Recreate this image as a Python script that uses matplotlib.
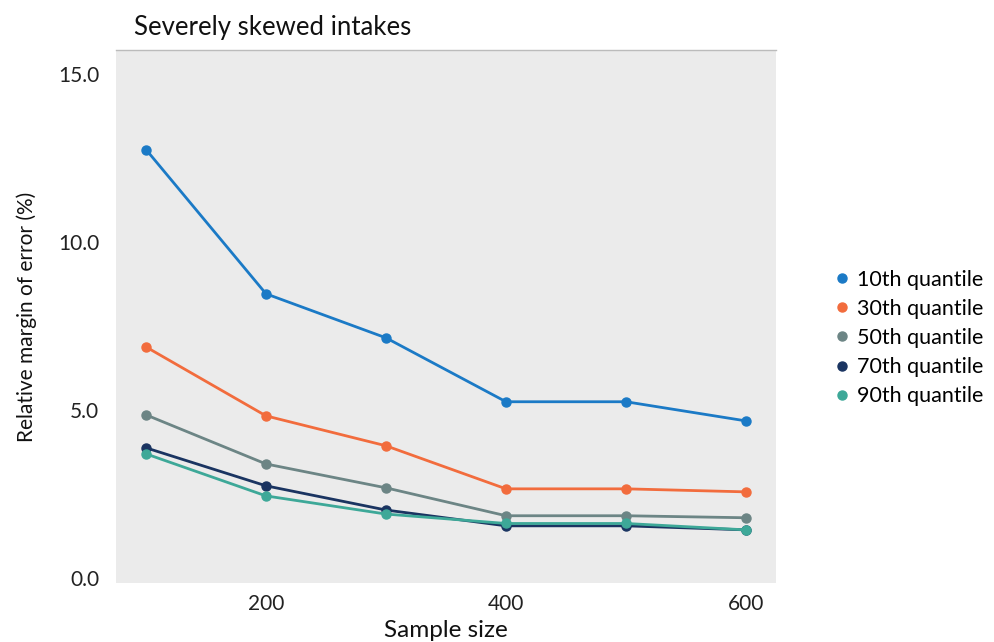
import matplotlib
matplotlib.use("Agg")
import matplotlib.pyplot as plt
from matplotlib.lines import Line2D

plt.rcParams['font.family'] = ['Lato', 'DejaVu Sans']

sample_size = [100, 200, 300, 400, 500, 600]
series_names = ["10th quantile", "30th quantile", "50th quantile", "70th quantile", "90th quantile"]
q10 = [12.74, 8.45, 7.14, 5.24, 5.24, 4.67]
q30 = [6.87, 4.82, 3.93, 2.65, 2.65, 2.56]
q50 = [4.85, 3.39, 2.68, 1.85, 1.85, 1.79]
q70 = [3.87, 2.74, 2.02, 1.55, 1.55, 1.43]
q90 = [3.69, 2.44, 1.90, 1.62, 1.62, 1.43]
colors = ["#1B7AC6", "#F26C3D", "#6C8585", "#1A3461", "#3DA898"]

fig = plt.figure(figsize=(9.94, 6.42), dpi=100)
ax = fig.add_axes([116/994, 1-583/642, (776-116)/994, (583-50)/642])
ax.set_facecolor("#EBEBEB")

for name, vals, c in zip(series_names, [q10, q30, q50, q70, q90], colors):
    ax.plot(sample_size, vals, color=c, lw=2, marker='o', ms=6.5, label=name)

ax.set_xlim(75, 625)
ax.set_ylim(-0.15, 15.7)
ax.set_xticks([200, 400, 600])
ax.set_yticks([0, 5, 10, 15])
ax.set_yticklabels(["0.0", "5.0", "10.0", "15.0"])
for s in ["left", "right", "bottom"]:
    ax.spines[s].set_visible(False)
ax.spines["top"].set_color("#BBBBBB")
ax.spines["top"].set_linewidth(1)
ax.tick_params(length=0, labelsize=15, colors="#222222")
ax.tick_params(axis='y', pad=12)
ax.tick_params(axis='x', pad=8)
ax.set_xlabel("Sample size", fontsize=17.5, color="#111111", labelpad=4)
ax.set_ylabel("Relative margin of error (%)", fontsize=15, color="#111111", labelpad=15)
fig.text(134/994, 1-27/642, "Severely skewed intakes", fontsize=18.5, color="#111111", va="center", ha="left")

handles = [Line2D([], [], color=c, marker='o', ls='none', ms=6.5) for c in colors]
fig.legend(handles, series_names, loc="center left", bbox_to_anchor=(831/994, 1-338/642),
           frameon=False, fontsize=15.5, handletextpad=0.2, labelspacing=0.42, handlelength=1.0,
           borderpad=0, borderaxespad=0)

fig.savefig("out.png", dpi=100)
